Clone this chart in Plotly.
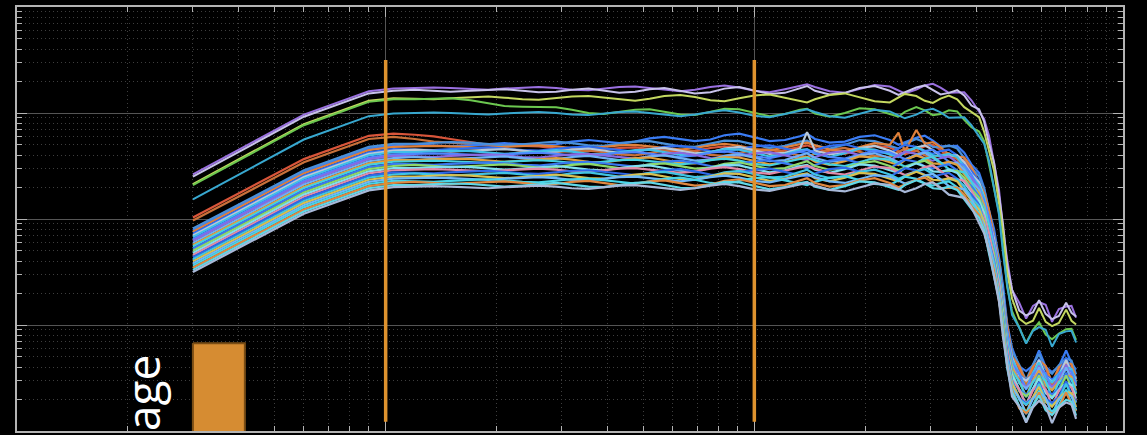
import numpy as np
import plotly.graph_objects as go

# ---------------- data ----------------
freq_hz = [3, 6, 9, 10.5, 12, 13.5, 15, 17, 19, 21,
           23.5, 26, 29, 32, 35.5, 39, 43, 47.5, 52, 57,
           63, 69, 76, 83, 91, 100, 110, 121, 133, 139,
           146, 160, 176, 193, 212, 233, 246, 256, 275, 290,
           305, 320, 337, 355, 371, 388, 407, 420, 433, 447,
           461, 473, 485, 500, 523, 546, 570, 592, 617, 642,
           670, 701, 725, 746]

# response shape of the lower bundle, dB relative to its plateau
lower_shape_db = [-16.0, -5.0, -0.6, 0, 0, 0, 0, 0, 0, 0,
                  0, 0, 0, 0, 0, 0, 0, 0, 0, 0,
                  0, 0, 0, 0, 0, 0, 0, 0, 0, 0,
                  0, 0, 0, 0, 0, 0, 0, 0, 0, 0,
                  0, -0.3, -0.8, -1.5, -2.5, -4.0, -6.5, -9.0, -12.5, -17.0,
                  -22.0, -28.0, -34.0, -39.5, -42.0, -44.0, -42.0, -40.0, -42.0, -44.0,
                  -42.0, -40.0, -41.5, -43.5]

# response shape of the upper bundle, dB relative to its plateau
upper_shape_db = [-16.2, -4.9, -0.5, 0, 0, 0, 0, 0, 0, 0,
                  0, 0, 0, 0, 0, 0, 0, 0, 0, 0,
                  0, 0, 0, 0, 0, 0, 0, 0, 0, 0,
                  0, 0, 0, 0, 0, 0, 0, 0, 0, 0,
                  0, 0, -0.2, -0.5, -1.2, -2.4, -4.0, -6.0, -9.5, -14.0,
                  -19.5, -26.0, -32.5, -38.0, -41.0, -43.0, -41.5, -40.0, -41.5, -43.5,
                  -42.0, -40.5, -41.5, -43.0]

# measured ripple patterns (dB)
ripple_a = [0, 0, 0, 0, 0.1, 0.2, 0.1, -0.1, -0.2, 0.0,
            0.2, 0.3, 0.1, -0.2, -0.3, 0.0, 0.3, 0.4, 0.1, -0.3,
            -0.5, -0.2, 0.3, 0.6, 0.2, -0.4, -0.7, -0.1, 0.5, 0.8,
            0.3, -0.5, -0.8, 0.0, 0.7, 0.4, -0.3, -0.9, -0.2, 0.6,
            0.9, 0.2, -0.6, -0.3, 0.5, 0.2, -0.4, 0.3, 0.6, -0.2,
            0.4, -0.5, 0.3, 0.0, 0.6, -0.4, 0.5, -0.3, 0.7, -0.5,
            0.4, -0.6, 0.5, -0.2]
ripple_b = [0, 0, 0, 0, -0.1, -0.2, 0.0, 0.2, 0.3, 0.1,
            -0.2, -0.3, 0.0, 0.3, 0.4, 0.1, -0.3, -0.5, -0.1, 0.4,
            0.6, 0.2, -0.4, -0.6, 0.0, 0.5, 0.7, 0.1, -0.6, -0.8,
            -0.2, 0.6, 0.9, 0.2, -0.6, -0.8, 0.1, 0.8, 0.4, -0.5,
            -0.9, -0.1, 0.7, 0.3, -0.5, -0.2, 0.4, -0.3, -0.6, 0.3,
            -0.4, 0.5, -0.3, 0.2, -0.6, 0.4, -0.5, 0.4, -0.7, 0.5,
            -0.4, 0.6, -0.5, 0.3]
ripple_c = [0, 0, 0, 0, 0.2, 0.0, -0.2, 0.0, 0.2, 0.3,
            0.0, -0.3, -0.2, 0.2, 0.4, 0.0, -0.4, -0.2, 0.3, 0.5,
            0.0, -0.5, -0.3, 0.4, 0.7, 0.0, -0.6, -0.4, 0.4, 0.9,
            0.0, -0.7, -0.4, 0.5, 0.9, 0.0, -0.8, -0.3, 0.6, 1.0,
            0.1, -0.7, -0.2, 0.6, 0.3, -0.4, 0.5, 0.2, -0.5, 0.4,
            -0.3, 0.6, -0.4, 0.5, -0.5, 0.6, -0.3, 0.5, -0.6, 0.4,
            -0.5, 0.5, -0.4, 0.4]
ripple_d = [0, 0, 0, 0, 0.0, 0.1, 0.3, 0.2, -0.1, -0.3,
            -0.1, 0.2, 0.4, 0.1, -0.3, -0.4, 0.0, 0.4, 0.5, 0.0,
            -0.5, -0.6, 0.0, 0.6, 0.5, -0.2, -0.8, -0.4, 0.4, 0.6,
            -0.3, -0.9, -0.2, 0.7, 0.5, -0.4, -0.9, 0.0, 0.9, 0.3,
            -0.6, -0.4, 0.5, 0.6, -0.3, -0.5, 0.3, 0.5, -0.4, -0.3,
            0.5, 0.2, -0.5, 0.4, 0.3, -0.6, 0.4, 0.3, -0.5, 0.6,
            0.2, -0.5, 0.6, 0.0]

# slow level drifts seen on individual curves (dB)
drift_none = [0, 0, 0, 0, 0, 0, 0, 0, 0, 0,
              0, 0, 0, 0, 0, 0, 0, 0, 0, 0,
              0, 0, 0, 0, 0, 0, 0, 0, 0, 0,
              0, 0, 0, 0, 0, 0, 0, 0, 0, 0,
              0, 0, 0, 0, 0, 0, 0, 0, 0, 0,
              0, 0, 0, 0, 0, 0, 0, 0, 0, 0,
              0, 0, 0, 0]
drift_sag = [0, 0, 0, -0.2, -0.5, -0.9, -1.3, -1.7, -2.1, -2.4,
             -2.7, -2.9, -3.1, -3.2, -3.2, -3.2, -3.2, -3.2, -3.2, -3.2,
             -3.2, -3.2, -3.2, -3.2, -3.2, -3.2, -3.2, -3.2, -3.2, -3.2,
             -3.2, -3.2, -3.2, -3.2, -3.2, -3.2, -3.2, -3.2, -3.2, -3.2,
             -3.2, -3.2, -3.2, -3.2, -3.2, -3.2, -3.2, -3.2, -3.2, -3.2,
             -3.2, -3.2, -3.2, -3.2, -3.2, -3.2, -3.2, -3.2, -3.2, -3.2,
             -3.2, -3.2, -3.2, -3.2]
drift_rise = [0, 0, 0, 0, 0, 0, 0, 0, 0, 0.1,
              0.2, 0.3, 0.4, 0.5, 0.6, 0.7, 0.8, 0.9, 1.0, 1.1,
              1.2, 1.3, 1.4, 1.5, 1.5, 1.5, 1.4, 1.4, 1.3, 1.3,
              1.2, 1.2, 1.1, 1.1, 1.0, 1.0, 0.9, 0.9, 0.8, 0.8,
              0.8, 0.8, 0.8, 0.8, 0.8, 0.8, 0.8, 0.8, 0.8, 0.8,
              0.8, 0.8, 0.8, 0.8, 0.8, 0.8, 0.8, 0.8, 0.8, 0.8,
              0.8, 0.8, 0.8, 0.8]
drift_fall = [0, 0, 0, 0, 0, 0, -0.1, -0.4, -0.7, -1.0,
              -1.3, -1.6, -1.9, -2.1, -2.3, -2.4, -2.4, -2.4, -2.4, -2.4,
              -2.4, -2.4, -2.4, -2.4, -2.4, -2.4, -2.4, -2.4, -2.4, -2.4,
              -2.4, -2.4, -2.4, -2.4, -2.4, -2.4, -2.4, -2.4, -2.4, -2.4,
              -2.4, -2.4, -2.4, -2.4, -2.4, -2.4, -2.4, -2.4, -2.4, -2.4,
              -2.4, -2.4, -2.4, -2.4, -2.4, -2.4, -2.4, -2.4, -2.4, -2.4,
              -2.4, -2.4, -2.4, -2.4]

ripples = {"a": ripple_a, "b": ripple_b, "c": ripple_c, "d": ripple_d}
drifts = {"none": drift_none, "sag": drift_sag, "rise": drift_rise, "fall": drift_fall}

# curves: colour, plateau level (dB), ripple, drift, spikes {freq: dB}
lower_colors = ["#d9553a", "#c8703a", "#3a7cf5", "#4a90d9", "#e0803a",
                "#2f6df0", "#b8c8d8", "#3fc0e8", "#4f86ff", "#8a6ae0",
                "#6fb0f5", "#e0a040", "#45d0e0", "#3a78f0", "#8ed86a",
                "#80e0f0", "#e28aa8", "#2e68e8", "#40c4e4", "#d8c050",
                "#70b8f8", "#48d4e8", "#e08840", "#60d8e8", "#a8b8d8"]
lower_levels_db = [16.3, 15.7, 13.9, 14.2, 13.6,
                   13.2, 12.9, 12.6, 12.2, 11.9,
                   11.5, 11.1, 10.8, 10.4, 10.0,
                   9.6, 9.2, 8.8, 8.4, 8.0,
                   7.6, 7.2, 6.8, 6.4, 6.0]
lower_ripple = ["a", "b", "c", "d", "a", "b", "c", "d", "a", "b",
                "c", "d", "a", "b", "c", "d", "a", "b", "c", "d",
                "a", "b", "c", "d", "a"]
lower_drift = ["sag", "sag", "rise", "none", "none", "none", "none", "none", "none", "none",
               "none", "none", "none", "none", "none", "none", "none", "none", "none", "none",
               "none", "none", "none", "none", "none"]
lower_spikes = {4: {246: 3.0, 275: 3.4}, 6: {139: 2.6}}

upper_colors = ["#9a70e0", "#c8c2ea", "#c4d860", "#6cc850", "#38a8d0"]
upper_levels_db = [24.6, 24.2, 22.8, 22.6, 19.9]
upper_ripple = ["a", "c", "b", "d", "a"]
upper_drift = ["none", "none", "none", "fall", "none"]

marker_freqs = [10, 100]
marker_span = [31.7, 0.0122]
box_freqs = [3.0, 4.15]
box_levels = [0.0673, 0.005]
overlay_label = "age"

x_major = [1, 10, 100, 1000]
y_major = [0.01, 0.1, 1, 10, 100]
x_minor = [d * m for m in (1, 10, 100) for d in range(2, 10)]
y_minor = [d * m for m in (0.01, 0.1, 1, 10) for d in range(2, 10)]


def curve(shape, level, rip, dr, spikes):
    db = np.array(shape) + level + np.array(ripples[rip]) + np.array(drifts[dr])
    for f, v in spikes.items():
        db[freq_hz.index(f)] += v
    return 10 ** (db / 20.0)


fig = go.Figure()

for i, c in enumerate(lower_colors):
    fig.add_trace(go.Scatter(
        x=freq_hz,
        y=curve(lower_shape_db, lower_levels_db[i], lower_ripple[i], lower_drift[i],
                lower_spikes.get(i, {})),
        mode="lines", line=dict(color=c, width=2.2), hoverinfo="skip"))

for i, c in enumerate(upper_colors):
    fig.add_trace(go.Scatter(
        x=freq_hz,
        y=curve(upper_shape_db, upper_levels_db[i], upper_ripple[i], upper_drift[i], {}),
        mode="lines", line=dict(color=c, width=2.0), hoverinfo="skip"))

for f in marker_freqs:
    fig.add_trace(go.Scatter(x=[f, f], y=marker_span, mode="lines",
                             line=dict(color="#de922e", width=3.5), hoverinfo="skip"))

fig.add_trace(go.Scatter(
    x=[box_freqs[0], box_freqs[1], box_freqs[1], box_freqs[0], box_freqs[0]],
    y=[box_levels[0], box_levels[0], box_levels[1], box_levels[1], box_levels[0]],
    mode="lines", fill="toself", fillcolor="#d68c32",
    line=dict(color="#7a4d15", width=2), hoverinfo="skip"))

axis_common = dict(
    type="log", showticklabels=False, ticks="inside", ticklen=10, tickwidth=1,
    tickcolor="#b4b4b4", showgrid=True, gridcolor="#555555", gridwidth=1,
    showline=True, linecolor="#b4b4b4", linewidth=2, mirror="allticks",
    layer="below traces", zeroline=False,
)
minor_common = dict(tickmode="array", ticks="inside", ticklen=5, tickcolor="#b4b4b4",
                    showgrid=True, gridcolor="#3e3e3e", griddash="1px,3px", gridwidth=1)

fig.update_xaxes(range=[0, 3], tickmode="array", tickvals=x_major,
                 minor=dict(tickvals=x_minor, **minor_common), **axis_common)
fig.update_yaxes(range=[-2, 2], tickmode="array", tickvals=y_major,
                 minor=dict(tickvals=y_minor, **minor_common), **axis_common)

fig.add_annotation(text=overlay_label, xref="paper", yref="paper", x=0.113, y=0.184,
                   xanchor="center", yanchor="top", textangle=-90, showarrow=False,
                   font=dict(family="Open Sans", size=46, color="white"))

fig.update_layout(width=1147, height=435, margin=dict(l=17, r=24, t=7, b=4),
                  paper_bgcolor="black", plot_bgcolor="black", showlegend=False)

fig.write_html("out.html", config={"displayModeBar": False})
